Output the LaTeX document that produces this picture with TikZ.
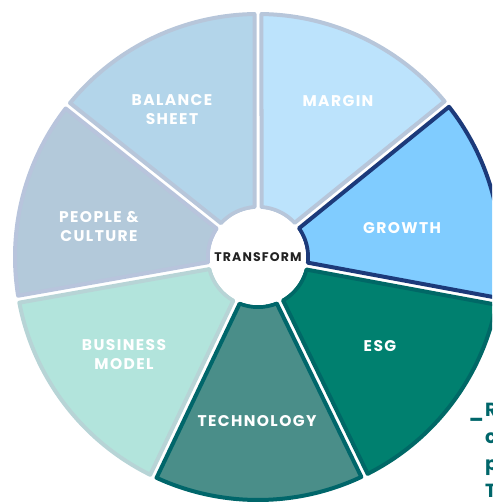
\documentclass[tikz,border=0pt]{standalone}
\usepackage{fontspec}
\setmainfont{Poppins}
\newfontfamily\wheelfont{Poppins}[LetterSpace=9]
\usepackage{tikz}
\definecolor{balfill}{RGB}{179, 213, 234}
\definecolor{balline}{RGB}{183, 198, 218}
\definecolor{marfill}{RGB}{188, 227, 252}
\definecolor{marline}{RGB}{183, 198, 218}
\definecolor{grofill}{RGB}{128, 204, 255}
\definecolor{groline}{RGB}{28, 58, 122}
\definecolor{esgfill}{RGB}{0, 128, 111}
\definecolor{esgline}{RGB}{0, 104, 102}
\definecolor{tecfill}{RGB}{74, 142, 137}
\definecolor{tecline}{RGB}{0, 102, 106}
\definecolor{busfill}{RGB}{178, 228, 220}
\definecolor{busline}{RGB}{183, 212, 214}
\definecolor{peofill}{RGB}{179, 201, 218}
\definecolor{peoline}{RGB}{184, 196, 220}
\definecolor{hubtext}{RGB}{34, 34, 34}
\definecolor{sidetext}{RGB}{0, 102, 106}

\begin{document}
\begin{tikzpicture}[x=1pt, y=1pt,
		seglabel/.style={text=white, font=\wheelfont\bfseries\fontsize{15.5}{19}\selectfont, align=center, inner sep=0pt}]
			\def\ri{50}
			\def\ro{243}
			\def\gap{3.5}

			\useasboundingbox (-258,-245) rectangle (234,257);
			\clip (-258,-245) rectangle (234,257);

			% wheel segments, pulled apart by a white gap of constant width
			\foreach \a/\b/\fc/\bc in {90/141.5/balfill/balline, 141.5/190/peofill/peoline,
					190/244.5/busfill/busline, 244.5/296/tecfill/tecline,
					296/349.5/esgfill/esgline, 349.5/399/grofill/groline, 399/450/marfill/marline} {
				\filldraw[fill=\fc, draw=\bc, line width=4, line join=round]
					({\a+asin(\gap/\ri)}:\ri) -- ({\a+asin(\gap/\ro)}:\ro)
					arc[start angle={\a+asin(\gap/\ro)}, end angle={\b-asin(\gap/\ro)}, radius=\ro]
					-- ({\b-asin(\gap/\ri)}:\ri)
					arc[start angle={\b-asin(\gap/\ri)}, end angle={\a+asin(\gap/\ri)}, radius=\ri]
					-- cycle;
			}

			% --- hub ---
			\node[circle, fill=white, minimum size=96, inner sep=0pt,
				font=\wheelfont\bfseries\fontsize{12.5}{14}\selectfont, text=hubtext] (hub) at (0,0) {TRANSFORM};

			% --- segment labels ---
			\node[seglabel] (balance) at (-86,147) {BALANCE\\SHEET};
			\node[seglabel] (margin) at (80,156) {MARGIN};
			\node[seglabel] (growth) at (144,29) {GROWTH};
			\node[seglabel] (esg) at (122,-89) {ESG};
			\node[seglabel] (technology) at (-1,-164) {TECHNOLOGY};
			\node[seglabel] (business) at (-134,-98) {BUSINESS\\MODEL};
			\node[seglabel] (people) at (-159,30) {PEOPLE \&\\CULTURE};

			% side note running off the right edge
			\node[anchor=north west, inner sep=0pt, text=sidetext, align=left,
				font=\bfseries\fontsize{19}{27}\selectfont] (note) at (227,-146) {R\\c\\p\\T};
			\node[anchor=base east, inner sep=0pt, text=sidetext,
				font=\bfseries\fontsize{19}{27}\selectfont] (notebar) at (226,-160) {\_};
		\end{tikzpicture}
\end{document}
